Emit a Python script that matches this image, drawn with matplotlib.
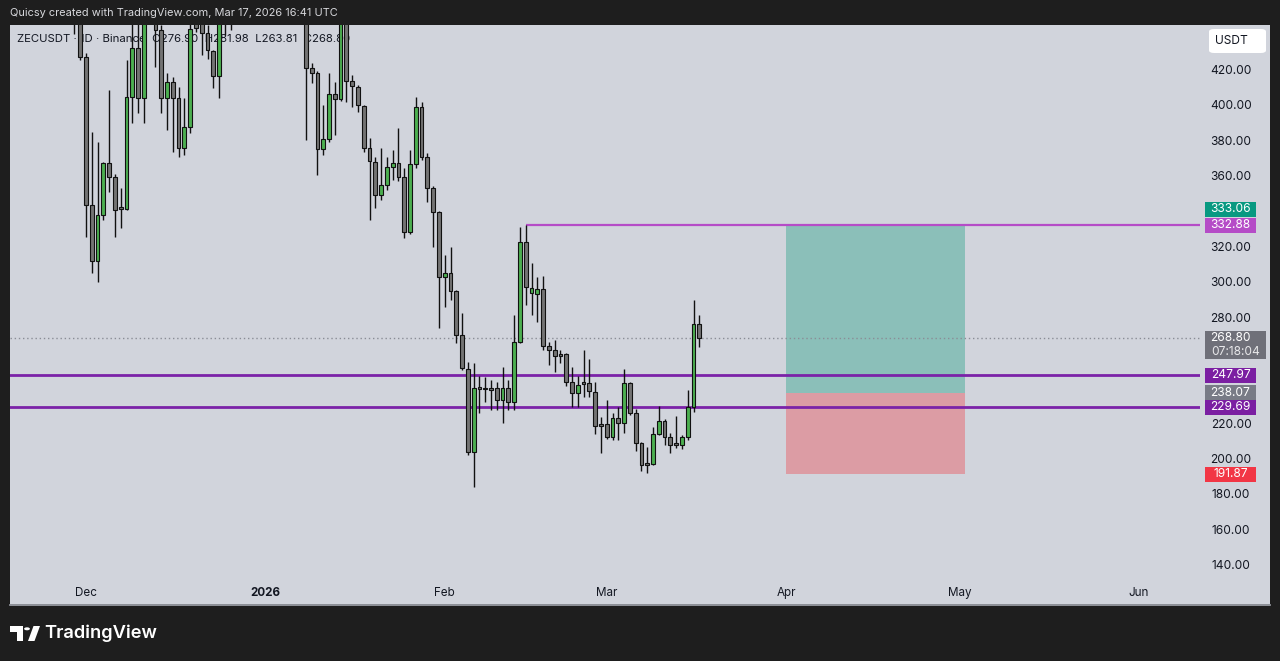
import matplotlib
matplotlib.use('Agg')
import matplotlib.pyplot as plt
import matplotlib.transforms as mtransforms
from matplotlib.patches import Rectangle, FancyBboxPatch, Polygon, Circle
import pandas as pd
import numpy as np

plt.rcParams['font.family'] = ['Inter', 'DejaVu Sans']

# ---------------- data ----------------
dates = ['2025-11-29', '2025-11-30',
         '2025-12-01', '2025-12-02', '2025-12-03', '2025-12-04', '2025-12-05', '2025-12-06', '2025-12-07',
         '2025-12-08', '2025-12-09', '2025-12-10', '2025-12-11', '2025-12-12', '2025-12-13', '2025-12-14',
         '2025-12-15', '2025-12-16', '2025-12-17', '2025-12-18', '2025-12-19', '2025-12-20', '2025-12-21',
         '2025-12-22', '2025-12-23', '2025-12-24', '2025-12-25', '2025-12-26', '2025-12-27',
         '2026-01-08', '2026-01-09', '2026-01-10', '2026-01-11', '2026-01-12', '2026-01-13', '2026-01-14',
         '2026-01-15', '2026-01-16', '2026-01-17', '2026-01-18', '2026-01-19', '2026-01-20', '2026-01-21',
         '2026-01-22', '2026-01-23', '2026-01-24', '2026-01-25', '2026-01-26', '2026-01-27', '2026-01-28',
         '2026-01-29', '2026-01-30', '2026-01-31',
         '2026-02-01', '2026-02-02', '2026-02-03', '2026-02-04', '2026-02-05', '2026-02-06', '2026-02-07',
         '2026-02-08', '2026-02-09', '2026-02-10', '2026-02-11', '2026-02-12', '2026-02-13', '2026-02-14',
         '2026-02-15', '2026-02-16', '2026-02-17', '2026-02-18', '2026-02-19', '2026-02-20', '2026-02-21',
         '2026-02-22', '2026-02-23', '2026-02-24', '2026-02-25', '2026-02-26', '2026-02-27', '2026-02-28',
         '2026-03-01', '2026-03-02', '2026-03-03', '2026-03-04', '2026-03-05', '2026-03-06', '2026-03-07',
         '2026-03-08', '2026-03-09', '2026-03-10', '2026-03-11', '2026-03-12', '2026-03-13', '2026-03-14',
         '2026-03-15', '2026-03-16', '2026-03-17']

opens = [480.0, 455.0,
         428.1, 344.2, 312.7, 338.6, 367.8, 360.2, 342.8,
         342.2, 405.5, 432.8, 404.6, 460.0, 470.0, 443.2,
         404.6, 413.9, 404.6, 376.6, 388.2, 447.5, 447.0,
         441.3, 431.3, 417.2, 452.0, 475.0, 498.0,
         478.0, 421.9, 418.7, 375.7, 381.4, 407.0, 404.3,
         455.0, 414.3, 411.1, 400.2, 376.3, 368.7, 349.9,
         355.5, 365.9, 367.8, 359.9, 329.1, 367.4, 399.5,
         371.2, 353.7, 340.4,
         303.3, 305.6, 295.7, 270.7, 251.3, 204.7, 241.1,
         240.0, 240.5, 240.5, 233.9, 240.5, 232.9, 266.9,
         323.4, 294.2, 294.0, 296.5, 264.5, 262.2, 259.8,
         259.8, 244.3, 237.7, 243.7, 243.7, 238.6, 219.8,
         220.2, 213.2, 223.6, 221.1, 243.4, 226.4, 209.8,
         197.7, 197.7, 214.5, 222.3, 212.8, 209.4, 208.5,
         213.2, 229.8, 276.90]

highs = [500.0, 460.0,
         430.2, 385.7, 380.0, 368.7, 409.3, 362.0, 353.8,
         426.2, 452.0, 450.0, 470.0, 485.0, 475.0, 446.0,
         418.9, 416.8, 411.1, 404.6, 448.0, 449.0, 450.0,
         446.0, 432.0, 458.0, 480.0, 505.0, 510.0,
         485.0, 424.5, 420.0, 400.8, 418.7, 413.9, 465.0,
         460.0, 417.7, 412.0, 401.0, 381.9, 371.5, 376.3,
         371.5, 375.3, 387.6, 365.0, 375.3, 405.1, 402.6,
         373.5, 355.0, 341.0,
         315.9, 320.6, 296.0, 283.0, 255.6, 255.0, 247.5,
         247.1, 245.2, 244.3, 252.8, 245.2, 282.0, 331.5,
         332.88, 311.2, 303.7, 304.0, 266.9, 267.8, 262.2,
         260.5, 252.8, 247.5, 262.2, 256.9, 244.3, 224.5,
         233.9, 226.6, 230.1, 251.3, 244.0, 228.8, 210.0,
         207.5, 218.8, 230.5, 223.0, 215.2, 224.9, 214.1,
         239.6, 290.5, 281.98]

lows = [441.0, 426.2,
        326.3, 305.7, 300.8, 335.7, 351.7, 326.3, 331.2,
        341.5, 390.6, 396.2, 390.6, 450.0, 422.4, 396.2,
        386.6, 374.4, 371.5, 372.5, 384.8, 442.0, 429.0,
        426.6, 410.2, 404.6, 440.4, 443.0, 446.5,
        381.0, 413.2, 361.2, 372.5, 380.0, 383.8, 403.0,
        402.6, 399.8, 397.0, 374.4, 335.7, 342.3, 347.0,
        352.7, 358.3, 358.0, 325.4, 328.0, 365.0, 369.7,
        346.1, 320.6, 274.5,
        286.7, 290.5, 266.0, 251.0, 202.8, 184.9, 226.4,
        233.0, 228.3, 228.3, 220.7, 228.3, 228.3, 266.0,
        287.6, 282.0, 278.2, 262.2, 253.7, 249.9, 254.8,
        241.8, 229.8, 229.8, 235.4, 235.8, 214.7, 203.8,
        211.7, 211.3, 211.3, 215.4, 225.4, 205.2, 193.9,
        192.5, 197.1, 214.0, 208.5, 203.8, 206.6, 206.0,
        211.3, 227.3, 263.81]

closes = [455.0, 428.1,
          344.2, 312.7, 338.6, 367.8, 360.2, 341.4, 342.2,
          405.5, 432.8, 404.6, 460.0, 470.0, 443.2, 404.6,
          413.9, 404.6, 376.6, 388.2, 443.6, 444.3, 441.3,
          431.9, 417.2, 452.0, 475.0, 498.0, 490.0,
          421.9, 418.7, 375.7, 381.4, 407.0, 404.3, 455.0,
          414.5, 411.5, 400.8, 376.3, 369.3, 349.9, 355.5,
          365.9, 367.8, 360.2, 329.1, 367.4, 399.5, 371.2,
          353.7, 340.4, 303.3,
          305.6, 295.7, 270.7, 251.8, 204.7, 240.5, 240.0,
          240.5, 239.8, 233.9, 240.5, 232.9, 266.9, 323.4,
          297.7, 297.5, 296.5, 264.5, 262.2, 258.8, 258.9,
          244.3, 237.7, 242.4, 243.0, 239.0, 219.2, 219.2,
          213.2, 223.6, 220.7, 243.4, 226.4, 209.8, 197.1,
          197.1, 214.5, 222.3, 213.2, 208.5, 208.5, 213.2,
          229.8, 276.9, 268.80]

price_ticks = [420, 400, 380, 360, 320, 300, 280, 220, 200, 180, 160, 140]
time_labels = ['Dec', '2026', 'Feb', 'Mar', 'Apr', 'May', 'Jun']
time_dates = ['2025-12-01', '2026-01-01', '2026-02-01', '2026-03-01', '2026-04-01', '2026-05-01', '2026-06-01']

high_level = 332.88          # horizontal ray from Feb 15 high
high_level_start = '2026-02-15'
zone_top = 247.97
zone_bottom = 229.69
last_price = 268.80
countdown = '07:18:04'
target = 333.06
entry = 238.07
stop = 191.87
pos_start = '2026-04-01'
pos_end = '2026-05-02'

header = 'Quicsy created with TradingView.com, Mar 17, 2026 16:41 UTC'
legend = 'ZECUSDT · 1D · Binance  O276.90  H281.98  L263.81  C268.80'

# ---------------- figure ----------------
W, H = 1280, 661
fig = plt.figure(figsize=(W / 100, H / 100), dpi=100)
fig.patch.set_facecolor('#1e1e1e')

def fx(x):
    return x / W

def fy(y):
    return 1 - y / H

PANEL = '#d1d4dc'
fig.add_artist(Rectangle((fx(10), fy(604)), fx(1260), 579 / H, transform=fig.transFigure,
                         facecolor=PANEL, edgecolor='none', zorder=0))
fig.add_artist(plt.Line2D([fx(10), fx(1270)], [fy(604.5), fy(604.5)], transform=fig.transFigure,
                          color='#a3a6af', lw=1.2, zorder=1))

ax = fig.add_axes([fx(10), fy(604), 1190 / W, 579 / H])
ax.set_facecolor('none')
for s in ax.spines.values():
    s.set_visible(False)
ax.set_xticks([])
ax.set_yticks([])

base = pd.Timestamp('2025-12-01')
def dnum(s):
    return (pd.Timestamp(s) - base).days

d = np.array([(pd.Timestamp(s) - base).days for s in dates], dtype=float)
o = np.array(opens); h = np.array(highs); l = np.array(lows); c = np.array(closes)

px_per_day = 1053 / 182.0
ax.set_xlim((10 - 86) / px_per_day, (1200 - 86) / px_per_day)
ppu = 495 / 280.0
ax.set_ylim(420 - (604 - 71) / ppu, 420 + (71 - 25) / ppu)
xmin, xmax = ax.get_xlim()

GREEN = '#4caf50'
GRAY = '#737373'

# legend text (behind candles)
ax.text(7 / 1190, 1 - (39 - 25) / 579, legend, transform=ax.transAxes,
        fontsize=8.2, color='#131722', va='center', ha='left', zorder=1)

# position tool
ps, pe = dnum(pos_start), dnum(pos_end)
ax.add_patch(Rectangle((ps, entry), pe - ps, target - entry, facecolor='#8bbfb9', edgecolor='none', zorder=2))
ax.add_patch(Rectangle((ps, stop), pe - ps, entry - stop, facecolor='#dc9ca4', edgecolor='none', zorder=2))

# lines
ax.axhline(last_price, color='#8a8d96', lw=1.0, ls=(0, (1, 2)), zorder=3)
ax.hlines(high_level, dnum(high_level_start), xmax, color='#b54cc7', lw=1.6, zorder=3)
ax.axhline(zone_top, color='#7b22a8', lw=2.0, zorder=3)
ax.axhline(zone_bottom, color='#7b22a8', lw=2.0, zorder=3)

# candles
up = c >= o
colors = np.where(up, GREEN, GRAY)
ax.vlines(d, l, h, color='#111111', lw=1.0, zorder=4)
body_bottom = np.minimum(o, c)
body_h = np.maximum(np.abs(c - o), 0.9)
ax.bar(d, body_h, bottom=body_bottom, width=0.66, color=colors, edgecolor='#111111',
       linewidth=0.8, zorder=5)

# ---------------- price axis ----------------
blend = mtransforms.blended_transform_factory(fig.transFigure, ax.transData)
for p in price_ticks:
    ax.text(fx(1231), p, f'{p:.2f}', transform=blend, ha='center', va='center',
            fontsize=8.6, color='#131722', clip_on=False)

def price_label(value, color, shift_px=0.0, txtcolor='white'):
    center = value + shift_px / ppu
    hh = 15 / ppu
    ax.add_patch(Rectangle((fx(1205), center - hh / 2), 51 / W, hh, transform=blend,
                           facecolor=color, edgecolor='none', clip_on=False, zorder=6))
    ax.text(fx(1230.5), center, f'{value:.2f}', transform=blend, ha='center', va='center',
            fontsize=8.6, color=txtcolor, clip_on=False, zorder=7)

price_label(target, '#089981', shift_px=15.3)
price_label(high_level, '#b54cc7')
price_label(zone_top, '#7b1fa2')
price_label(entry, '#787b86')
price_label(zone_bottom, '#7b1fa2')
price_label(stop, '#f23645')

# last price with countdown
hh_top = 7.5 / ppu
box_h = 28.5 / ppu
ax.add_patch(Rectangle((fx(1205), last_price + hh_top - box_h), 61 / W, box_h, transform=blend,
                       facecolor='#6f7079', edgecolor='none', clip_on=False, zorder=6))
ax.text(fx(1230.5), last_price, f'{last_price:.2f}', transform=blend, ha='center', va='center',
        fontsize=8.6, color='white', clip_on=False, zorder=7)
ax.text(fx(1236), last_price - 13.5 / ppu, countdown, transform=blend, ha='center', va='center',
        fontsize=8.6, color='#e8e8ea', clip_on=False, zorder=7)

# USDT box
fig.add_artist(FancyBboxPatch((fx(1209), fy(53)), 57 / W, 24 / H, transform=fig.transFigure,
                              boxstyle='round,pad=0,rounding_size=0.004', facecolor='white',
                              edgecolor='none', zorder=5))
fig.text(fx(1231), fy(40.5), 'USDT', ha='center', va='center', fontsize=8.6, color='#131722', zorder=6)

# ---------------- time axis ----------------
tblend = mtransforms.blended_transform_factory(ax.transData, fig.transFigure)
for lab, ds in zip(time_labels, time_dates):
    ax.text(dnum(ds), fy(593), lab, transform=tblend, ha='center', va='center', fontsize=8.4,
            color='#131722', fontweight='bold' if lab == '2026' else 'normal', clip_on=False)

# ---------------- header / footer ----------------
fig.text(fx(10), fy(13), header, ha='left', va='center', fontsize=7.9, color='#d8d9dd')

# TradingView logo
logo_col = 'white'
fig.add_artist(Polygon([(fx(10), fy(626)), (fx(22.5), fy(626)), (fx(22.5), fy(641)), (fx(17), fy(641)),
                        (fx(17), fy(631.5)), (fx(10), fy(631.5))], closed=True, transform=fig.transFigure,
                       facecolor=logo_col, edgecolor='none'))
fig.add_artist(Circle((fx(27), fy(628.8)), 2.9 / W, transform=fig.transFigure, facecolor=logo_col,
                      edgecolor='none'))
fig.add_artist(Polygon([(fx(33.5), fy(626)), (fx(40), fy(626)), (fx(34.5), fy(641)), (fx(28), fy(641))],
                       closed=True, transform=fig.transFigure, facecolor=logo_col, edgecolor='none'))
fig.text(fx(44), fy(633.5), 'TradingView', ha='left', va='center', fontsize=13.2, color=logo_col,
         fontweight='semibold')

fig.savefig('out.png', dpi=100, facecolor=fig.get_facecolor())
